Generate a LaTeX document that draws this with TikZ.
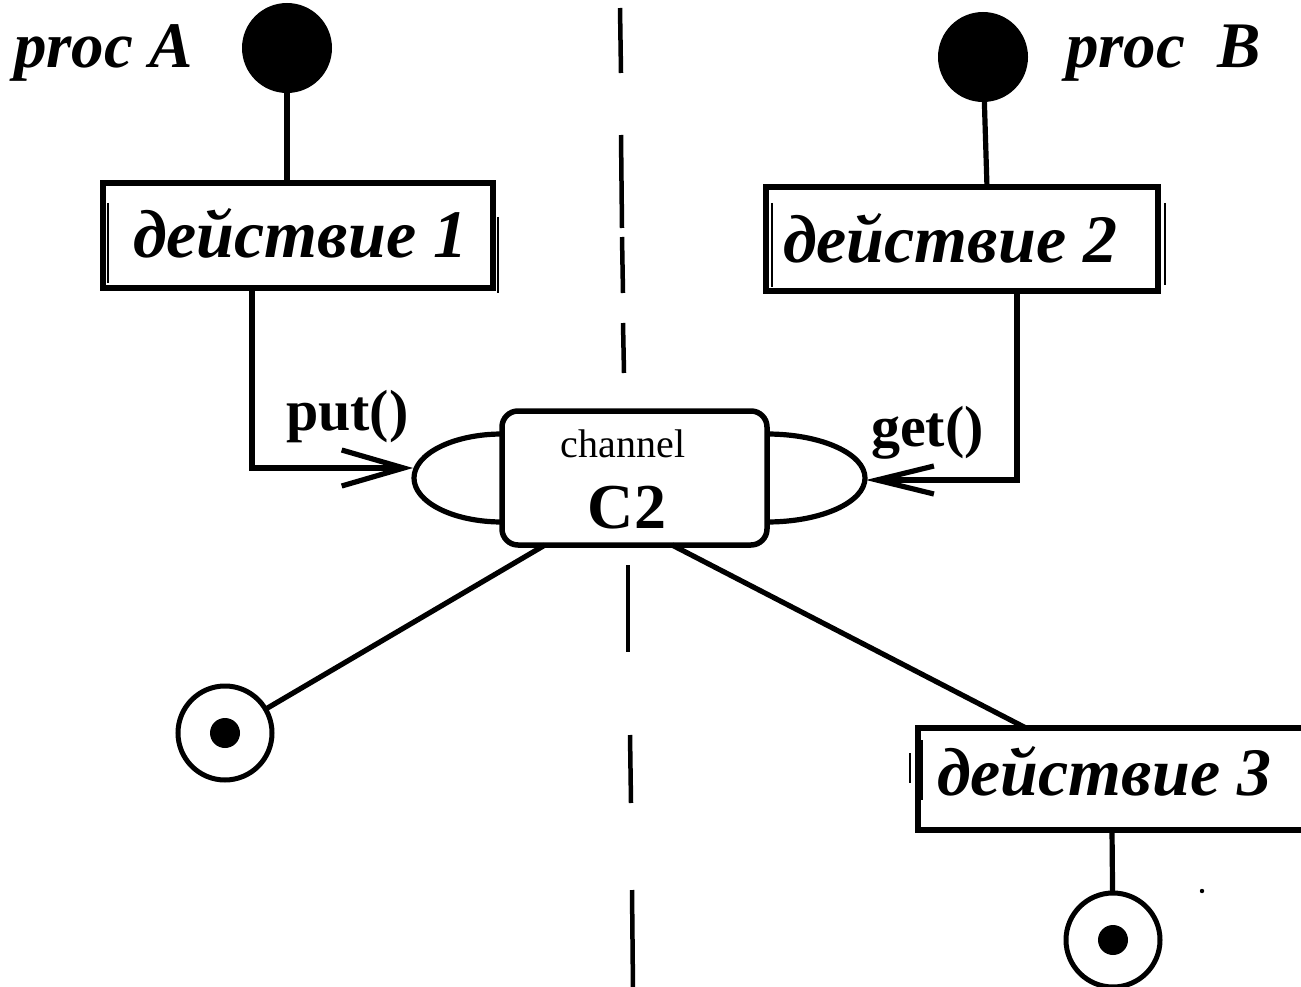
\documentclass[tikz,border=0pt]{standalone}
\usepackage{fontspec}
\setmainfont{Liberation Serif}
\usetikzlibrary{arrows.meta}

\tikzset{
  wire/.style={line width=5.2pt},
  thinrule/.style={line width=1.6pt},
  frame/.style={draw, line width=6pt, rectangle},
  startdot/.style={circle, fill=black, minimum size=90pt},
  enddot/.style={circle, draw, line width=5pt, minimum size=94pt},
  sepdash/.style={line width=4.5pt},
  headfont/.style={font=\fontsize{65pt}{65pt}\selectfont\bfseries\itshape},
  actfont/.style={font=\fontsize{68pt}{68pt}\selectfont\bfseries\itshape},
  callfont/.style={font=\fontsize{58pt}{58pt}\selectfont\bfseries},
}

\begin{document}
\begin{tikzpicture}[x=1pt, y=-1pt, every node/.style={inner sep=0pt, outer sep=0pt}]
\useasboundingbox (0,0) rectangle (1301,987);
\clip (0,0) rectangle (1301,987);

% vertical separator between the two processes
\foreach \xa/\ya/\xb/\yb in {620/8/621/73, 621/135/622/228, 622/237/623/293,
    623/323/624/373, 628/565/628/652, 630/735/631/803, 632/890/633/990}
  \draw[sepdash] (\xa,\ya) -- (\xb,\yb);

% process labels and initial states
\node[headfont, anchor=base west] (pa) at (14,68) {proc A};
\node[headfont, anchor=base west] (pb) at (1066,68) {proc\ \ B};
\node[startdot] (sA) at (287,48) {};
\node[startdot] (sB) at (983,57) {};

% action frames
\node[frame, minimum width=390pt, minimum height=105pt] (b1) at (297.5,235.5) {};
\node[frame, minimum width=392pt, minimum height=103pt] (b2) at (961.5,239) {};
\node[frame, minimum width=402pt, minimum height=102pt] (b3) at (1118.5,778.5) {};
\draw[thinrule] (108,203) -- (108,283) (498,217) -- (498,293);
\draw[thinrule] (772,203) -- (772,287) (1165,203) -- (1165,285);
\draw[thinrule] (910,753) -- (910,783) (922,740) -- (922,800);

\node[actfont, anchor=base west] (t1) at (133,258) {действие 1};
\node[actfont, anchor=base west] (t2) at (783,262) {действие 2};
\node[actfont, anchor=base west] (t3) at (937,795) {действие 3};

% channel
\node[draw, line width=5.5pt, rounded corners=16pt, minimum width=265pt, minimum height=134pt] (c) at (634.5,478) {};
\node[font=\fontsize{40pt}{40pt}\selectfont, anchor=base] (cn) at (623,457) {channel};
\node[font=\fontsize{64pt}{64pt}\selectfont\bfseries, anchor=base] (cc) at (627,528) {C2};
\draw[wire] (c.west) ++(0,-44) arc[start angle=270, end angle=90, x radius=88, y radius=44];
\draw[wire] (c.east) ++(0,-44) arc[start angle=270, end angle=450, x radius=98, y radius=44];
\coordinate (inL) at (413,468);
\coordinate (inR) at (866,480);

% final states
\node[enddot] (e1) at (225,733) {};
\node[enddot] (e2) at (1113,940) {};
\fill (e1) circle[radius=15];
\fill (e2) circle[radius=15];
\fill (1202,891) circle[radius=2.2];

% control flow
\draw[wire] (sA) -- (sA |- b1.north);
\draw[wire] (sB) -- (b2.north -| 987,0);
\draw[wire, -{Straight Barb[length=62pt, width=36pt]}] (b1.south -| 252,0) |- (inL);
\draw[wire, -{Straight Barb[length=57pt, width=28pt]}] (b2.south -| 1017,0) |- (inR);
\node[callfont, anchor=base west] (put) at (286,430) {put()};
\node[callfont, anchor=base west] (get) at (871,446) {get()};
\draw[wire] (c.south -| 545,0) -- (e1);
\draw[wire] (c.south -| 672,0) -- (b3.north -| 1025,0);
\draw[wire] (b3.south -| 1112,0) -- (e2);
\end{tikzpicture}
\end{document}
